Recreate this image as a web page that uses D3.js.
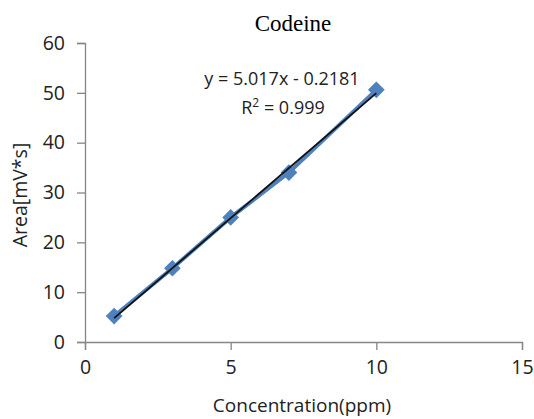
<!DOCTYPE html>
<html>
<head>
<meta charset="utf-8">
<script src="https://cdn.jsdelivr.net/npm/d3@7"></script>
<style>
  body { margin: 0; background: #fff; }
  text { font-family: "Open Sans", sans-serif; fill: #222; }
</style>
</head>
<body>
<script>
// chart size matches the window
var width = 534,
    height = 419;

// data
var concentration = [1, 3, 5, 7, 10];
var area = [5.2, 14.8, 25.0, 34.0, 50.6];
var xTicks = [0, 5, 10, 15];
var yTicks = [0, 10, 20, 30, 40, 50, 60];
var slope = 5.017,
    intercept = -0.2181;
var equationText = "y = 5.017x - 0.2181";
var titleText = "Codeine";

var margin = {top: 43, right: 12, bottom: 77, left: 85};

var x = d3.scaleLinear().domain([0, 15]).range([margin.left, width - margin.right]);
var y = d3.scaleLinear().domain([0, 60]).range([height - margin.bottom, margin.top]);

var svg = d3.select("body").append("svg")
    .attr("width", width)
    .attr("height", height);

// title
svg.append("text")
    .attr("x", 293)
    .attr("y", 31)
    .attr("text-anchor", "middle")
    .style("font-family", "'Liberation Serif', 'Times New Roman', serif")
    .style("font-size", "23px")
    .style("font-weight", "normal")
    .style("fill", "#000")
    .text(titleText);

// axes
var xAxis = svg.append("g")
    .attr("transform", "translate(0," + y(0) + ")")
    .call(d3.axisBottom(x).tickValues(xTicks).tickSize(8).tickPadding(10));

var yAxis = svg.append("g")
    .attr("transform", "translate(" + x(0) + ",0)")
    .call(d3.axisLeft(y).tickValues(yTicks).tickSize(8).tickPadding(12));

[xAxis, yAxis].forEach(function(g) {
    g.selectAll("path, line").attr("stroke", "#868686").attr("stroke-width", 1.3);
    g.selectAll("text").style("font-size", "19.5px").style("fill", "#222")
        .style("font-family", "'Open Sans', sans-serif");
});

// axis titles
svg.append("text")
    .attr("x", 302)
    .attr("y", 412)
    .attr("text-anchor", "middle")
    .style("font-size", "19px")
    .text("Concentration(ppm)");

svg.append("text")
    .attr("transform", "translate(27," + y(29.5) + ") rotate(-90)")
    .attr("text-anchor", "middle")
    .style("font-size", "19.5px")
    .text("Area[mV*s]");

// series line + markers
var pts = concentration.map(function(c, i) { return [c, area[i]]; });

svg.append("path")
    .datum(pts)
    .attr("fill", "none")
    .attr("stroke", "#4f81bd")
    .attr("stroke-width", 4)
    .attr("d", d3.line().x(function(d) { return x(d[0]); }).y(function(d) { return y(d[1]); }));

svg.selectAll(".marker")
    .data(pts)
    .enter().append("path")
    .attr("class", "marker")
    .attr("transform", function(d) { return "translate(" + x(d[0]) + "," + y(d[1]) + ") rotate(45)"; })
    .attr("d", d3.symbol().type(d3.symbolSquare).size(140))
    .attr("fill", "#4f81bd");

// linear trendline
var xMin = d3.min(concentration), xMax = d3.max(concentration);
svg.append("line")
    .attr("x1", x(xMin)).attr("y1", y(slope * xMin + intercept))
    .attr("x2", x(xMax)).attr("y2", y(slope * xMax + intercept))
    .attr("stroke", "#111")
    .attr("stroke-width", 1.8);

// equation label
svg.append("text")
    .attr("x", 282)
    .attr("y", 85)
    .attr("text-anchor", "middle")
    .style("font-size", "18px")
    .text(equationText);

var r2 = svg.append("text")
    .attr("x", 283)
    .attr("y", 114)
    .attr("text-anchor", "middle")
    .style("font-size", "18px");
r2.append("tspan").text("R");
r2.append("tspan").attr("dy", -7).style("font-size", "12px").text("2");
r2.append("tspan").attr("dy", 7).text(" = 0.999");
</script>
</body>
</html>
